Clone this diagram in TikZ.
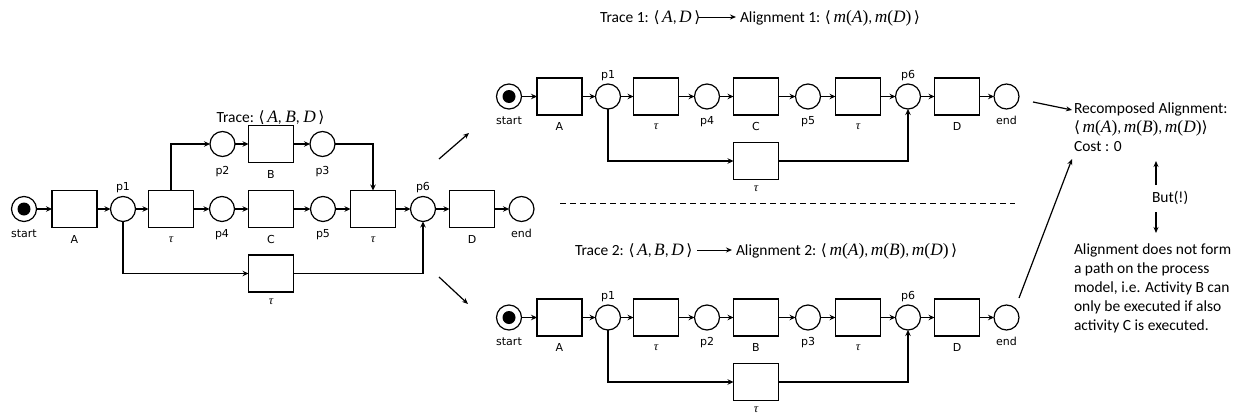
\documentclass[tikz,border=0pt]{standalone}
\usepackage{fontspec}
\setmainfont{Carlito}
\newfontfamily\labfont{DejaVu Sans}
\newfontfamily\mfont[Scale=1.12]{Liberation Serif}
\newfontfamily\brfont{DejaVu Sans}
\usetikzlibrary{arrows.meta}
\newcommand{\mv}[1]{{\mfont\itshape #1}}
\newcommand{\lan}{{\brfont ⟨}}
\newcommand{\ran}{{\brfont ⟩}}
\newcommand{\mm}[1]{\mv{m}{\mfont(}\mv{#1}{\mfont)}}
\newcommand{\tauv}{\mv{τ}}
\newcommand{\pnrow}[4]{%
  \node[startpl] (#1s) at (0,0) {};
  \node[trans] (#1A) at (50.5,0) {};
  \node[place] (#1p1) at (99,0) {};
  \node[trans] (#1t1) at (147,0) {};
  \node[place] (#1pa) at (198,0) {};
  \node[trans] (#1X) at (247,0) {};
  \node[place] (#1pb) at (299,0) {};
  \node[trans] (#1t2) at (349,0) {};
  \node[place] (#1p6) at (399,0) {};
  \node[trans] (#1D) at (448,0) {};
  \node[place] (#1e) at (497.5,0) {};
  \node[trans] (#1t3) at (247,64.5) {};
  \node[lab] (#1ls) at (0,28) {start};
  \node[lab] (#1lA) at (50.5,34) {A};
  \node[lab] (#1lp1) at (99,-18.5) {p1};
  \node[lab] (#1lt1) at (147,33) {\tauv};
  \node[lab] (#1lpa) at (198,28) {#2};
  \node[lab] (#1lX) at (247,34) {#3};
  \node[lab] (#1lpb) at (299,28) {#4};
  \node[lab] (#1lt2) at (349,33) {\tauv};
  \node[lab] (#1lp6) at (399,-18.5) {p6};
  \node[lab] (#1lD) at (448,34) {D};
  \node[lab] (#1le) at (497.5,28) {end};
  \node[lab] (#1lt3) at (247,95) {\tauv};
  \draw[arc] (#1s) -- (#1A);
  \draw[arc] (#1A) -- (#1p1);
  \draw[arc] (#1p1) -- (#1t1);
  \draw[arc] (#1t1) -- (#1pa);
  \draw[arc] (#1pa) -- (#1X);
  \draw[arc] (#1X) -- (#1pb);
  \draw[arc] (#1pb) -- (#1t2);
  \draw[arc] (#1t2) -- (#1p6);
  \draw[arc] (#1p6) -- (#1D);
  \draw[arc] (#1D) -- (#1e);
  \draw[arc] (#1p1.south) |- (#1t3.west);
  \draw[arc] (#1t3.east) -| (#1p6.south);
}
\begin{document}
\begin{tikzpicture}[x=1pt,y=-1pt,
  every node/.style={inner sep=0pt,outer sep=0pt},
  trans/.style={draw,line width=1.2pt,minimum width=45pt,minimum height=37pt},
  place/.style={draw,circle,line width=1.2pt,minimum size=25pt},
  startpl/.style={place,path picture={\fill (path picture bounding box.center) circle (6.5pt);}},
  lab/.style={font=\labfont\fontsize{11}{13}\selectfont,anchor=base},
  txt/.style={font=\fontsize{15.5}{19}\selectfont,anchor=base west},
  arc/.style={line width=1.2pt,-{Stealth[length=6pt,width=5.5pt,inset=2pt]}},
  thinarc/.style={line width=1pt,-{Stealth[length=6pt,width=5pt]}},
]
\useasboundingbox (0,0) rectangle (1245,415);

% left net
\begin{scope}[shift={(24,209)}]
  \pnrow{L}{p4}{C}{p5}
  \node[place] (Lq2) at (198.5,-65) {};
  \node[trans] (LB) at (247,-65) {};
  \node[place] (Lq3) at (298.5,-65) {};
  \node[lab] (Llq2) at (198.5,-35) {p2};
  \node[lab] (LlB) at (247,-31) {B};
  \node[lab] (Llq3) at (298.5,-35) {p3};
  \draw[arc] (Lt1.north) |- (Lq2.west);
  \draw[arc] (Lq2) -- (LB);
  \draw[arc] (LB) -- (Lq3);
  \draw[arc] (Lq3.east) -| (Lt2.north);
\end{scope}
\node[txt,anchor=base] (trL) at (270.5,122) {Trace: \lan\,\mv{A}, \mv{B}, \mv{D}\,\ran};

% top right net
\begin{scope}[shift={(509,96.5)}]
  \pnrow{T}{p4}{C}{p5}
\end{scope}
% bottom right net
\begin{scope}[shift={(509,317.5)}]
  \pnrow{U}{p2}{B}{p3}
\end{scope}

% arrows from left net
\coordinate (a1s) at (439,159); \coordinate (a1e) at (469,133);
\coordinate (a2s) at (439,277); \coordinate (a2e) at (468,304);
\draw[thinarc,line width=1.2pt] (a1s) -- (a1e);
\draw[thinarc,line width=1.2pt] (a2s) -- (a2e);

% dashed separator
\coordinate (d1) at (560,203); \coordinate (d2) at (1015,203);
\draw[line width=1pt,dash pattern=on 6pt off 4pt] (d1) -- (d2);

% trace texts
\node[txt] (tr1) at (600,22) {Trace 1: \lan\,\mv{A},\,\mv{D}\,\ran};
\node[txt] (al1) at (740,22) {Alignment 1: \lan\,\mm{A},\,\mm{D}\,\ran};
\coordinate (t1a) at (698,17); \coordinate (t1b) at (736,17);
\draw[thinarc] (t1a) -- (t1b);
\node[txt] (tr2) at (575,255) {Trace 2: \lan\,\mv{A},\,\mv{B},\,\mv{D}\,\ran};
\node[txt] (al2) at (736,255) {Alignment 2: \lan\,\mm{A},\,\mm{B},\,\mm{D}\,\ran};
\coordinate (t2a) at (697,250); \coordinate (t2b) at (732,250);
\draw[thinarc] (t2a) -- (t2b);

% recomposed
\node[txt] (rec1) at (1074,113) {Recomposed Alignment:};
\node[txt] (rec2) at (1074,132) {\lan\,\mm{A},\,\mm{B},\,\mm{D}\ran};
\node[txt] (rec3) at (1074,151) {Cost : 0};
\coordinate (r1s) at (1033,102); \coordinate (r1e) at (1072,110);
\coordinate (r2s) at (1019,298); \coordinate (r2e) at (1072,159);
\draw[thinarc,line width=1.2pt] (r1s) -- (r1e);
\draw[thinarc,line width=1.2pt] (r2s) -- (r2e);

\node[txt] (but) at (1152,202) {But(!)};
\coordinate (u1) at (1156,185); \coordinate (u2) at (1156,161);
\coordinate (v1) at (1156,212); \coordinate (v2) at (1156,233);
\draw[thinarc,line width=1.2pt] (u1) -- (u2);
\draw[thinarc,line width=1.2pt] (v1) -- (v2);

\node[txt] (n1) at (1074,254) {Alignment does not form};
\node[txt] (n2) at (1074,273) {a path on the process};
\node[txt] (n3) at (1074,292) {model, i.e. Activity B can};
\node[txt] (n4) at (1074,311) {only be executed if also};
\node[txt] (n5) at (1074,330) {activity C is executed.};
\end{tikzpicture}
\end{document}
